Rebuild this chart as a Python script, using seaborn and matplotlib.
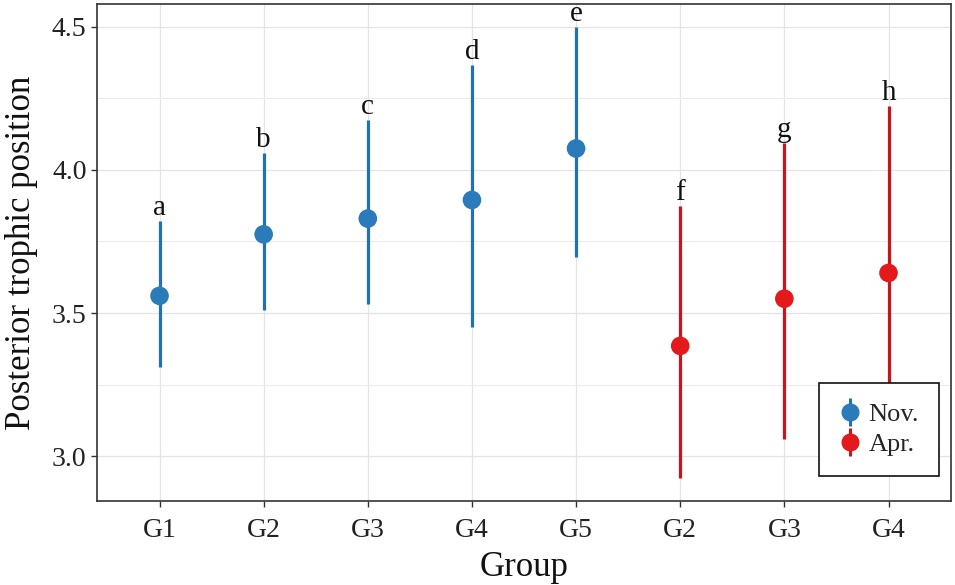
import matplotlib.pyplot as plt
import matplotlib.ticker as mticker
import numpy as np
import pandas as pd
import seaborn as sns
from matplotlib.lines import Line2D
from matplotlib.legend_handler import HandlerTuple

sns.set_theme(style="white")
plt.rcParams["font.family"] = ["Liberation Serif", "DejaVu Serif"]

# Posterior trophic position per group (median and credible interval)
group_keys = ["Nov-G1", "Nov-G2", "Nov-G3", "Nov-G4", "Nov-G5", "Apr-G2", "Apr-G3", "Apr-G4"]
tick_labels = ["G1", "G2", "G3", "G4", "G5", "G2", "G3", "G4"]
season = ["Nov.", "Nov.", "Nov.", "Nov.", "Nov.", "Apr.", "Apr.", "Apr."]
median_tp = [3.56, 3.775, 3.83, 3.895, 4.075, 3.385, 3.55, 3.64]
lower_tp = [3.31, 3.51, 3.53, 3.45, 3.695, 2.925, 3.06, 3.05]
upper_tp = [3.82, 4.06, 4.175, 4.365, 4.50, 3.875, 4.095, 4.225]
letters = ["a", "b", "c", "d", "e", "f", "g", "h"]

point_colors = {"Nov.": "#2b7bba", "Apr.": "#e3191c"}
line_colors = {"Nov.": "#2371ad", "Apr.": "#c9141b"}

df = pd.DataFrame({"group": group_keys, "season": season,
                   "median": median_tp, "lower": lower_tp, "upper": upper_tp})
df["x"] = np.arange(len(df))

fig = plt.figure(figsize=(9.55, 5.85), dpi=100)
ax = fig.add_axes([0.1016, 0.1436, 0.8942, 0.8496])

# credible intervals
for s in ["Nov.", "Apr."]:
    sub = df[df["season"] == s]
    ax.vlines(sub["x"], sub["lower"], sub["upper"], color=line_colors[s], lw=2.3, zorder=2)

sns.scatterplot(data=df, x="x", y="median", hue="season", palette=point_colors,
                s=180, edgecolor="none", legend=False, ax=ax, zorder=3)

for xi, hi, lab in zip(df["x"], df["upper"], letters):
    ax.annotate(lab, (xi, hi), xytext=(0, 0), textcoords="offset points",
                ha="center", va="bottom", fontsize=21, color="#111111")

ax.set_xlim(-0.6, 7.6)
ax.set_ylim(2.843, 4.58)
ax.set_xticks(df["x"])
ax.set_xticklabels(tick_labels)
ax.yaxis.set_major_locator(mticker.MultipleLocator(0.5))
ax.yaxis.set_minor_locator(mticker.MultipleLocator(0.25))
ax.yaxis.set_major_formatter(mticker.FormatStrFormatter("%.1f"))

ax.grid(True, which="major", color="#e4e4e4", lw=0.9)
ax.grid(True, which="minor", axis="y", color="#ececec", lw=0.8)
ax.set_axisbelow(True)
for sp in ax.spines.values():
    sp.set_color("#333333")
    sp.set_linewidth(1.2)

ax.tick_params(axis="both", which="major", direction="out", length=4, width=1,
               color="#333333", labelsize=20, labelcolor="#222222", bottom=True, left=True)
ax.tick_params(axis="x", which="major", pad=8)
ax.tick_params(axis="y", which="minor", length=0)

ax.set_xlabel("Group", fontsize=25, color="#111111", labelpad=6)
ax.set_ylabel("Posterior trophic position", fontsize=25, color="#111111", labelpad=10)

handles = []
for s in ["Nov.", "Apr."]:
    bar = Line2D([], [], color=line_colors[s], marker="|", markersize=20, markeredgewidth=2.2, lw=0)
    dot = Line2D([], [], color=point_colors[s], marker="o", markersize=12, lw=0)
    handles.append((bar, dot))
leg = ax.legend(handles, ["Nov.", "Apr."], handler_map={tuple: HandlerTuple(ndivide=1, pad=0)},
                loc="lower right", bbox_to_anchor=(0.9855, 0.05), fontsize=19, frameon=True,
                fancybox=False, framealpha=1, handlelength=0.8, handletextpad=0.3,
                borderpad=0.75, labelspacing=0.25, borderaxespad=0)
leg.get_frame().set_edgecolor("#111111")
leg.get_frame().set_linewidth(1.2)

plt.savefig("out.png", dpi=100)
plt.close()
